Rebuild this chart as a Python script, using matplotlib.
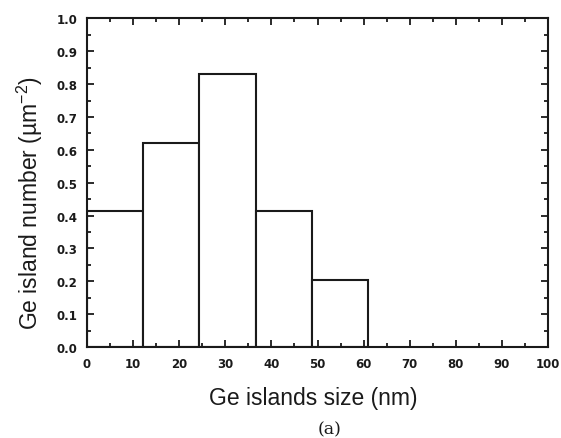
import matplotlib
matplotlib.use('agg')
import matplotlib.pyplot as plt
from matplotlib.ticker import MultipleLocator

# histogram bins (nm) and island density (um^-2)
bin_left = [0.0, 12.2, 24.4, 36.6, 48.8]
bin_width = [12.2, 12.2, 12.2, 12.2, 12.2]
counts = [0.415, 0.62, 0.83, 0.415, 0.205]

plt.rcParams['font.family'] = 'Liberation Sans'
plt.rcParams['mathtext.fontset'] = 'custom'
plt.rcParams['mathtext.rm'] = 'Liberation Sans'
plt.rcParams['mathtext.it'] = 'Liberation Sans'

fig = plt.figure(figsize=(5.61, 4.39), dpi=100)
ax = fig.add_axes([0.155, 0.207, 0.822, 0.749])

ax.bar(bin_left, counts, bin_width, align='edge', color='white',
       edgecolor='#1a1a1a', linewidth=1.5)

ax.set_xlim(0, 100)
ax.set_ylim(0, 1.0)
ax.xaxis.set_major_locator(MultipleLocator(10))
ax.xaxis.set_minor_locator(MultipleLocator(5))
ax.yaxis.set_major_locator(MultipleLocator(0.1))
ax.yaxis.set_minor_locator(MultipleLocator(0.05))
ax.tick_params(which='both', direction='in', top=True, right=True, width=1.3, colors='#1a1a1a')
ax.tick_params(which='major', length=5, labelsize=8.5, pad=7)
ax.tick_params(which='minor', length=3)
for lab in ax.get_xticklabels() + ax.get_yticklabels():
    lab.set_fontweight('bold')
    lab.set_family('DejaVu Sans')
for s in ax.spines.values():
    s.set_linewidth(1.5)
    s.set_color('#1a1a1a')

ax.set_xlabel('Ge islands size (nm)', fontsize=16.5, color='#1a1a1a')
ax.set_ylabel('Ge island number (\u00b5m$^{\\mathregular{-2}}$)', fontsize=16.5, color='#1a1a1a')
ax.xaxis.set_label_coords(0.49, -0.118)
ax.yaxis.set_label_coords(-0.092, 0.44)
fig.text(0.588, 0.02, '(a)', family='DejaVu Serif', fontsize=12.5, ha='center', va='center', color='#1a1a1a')

plt.savefig('out.png')
